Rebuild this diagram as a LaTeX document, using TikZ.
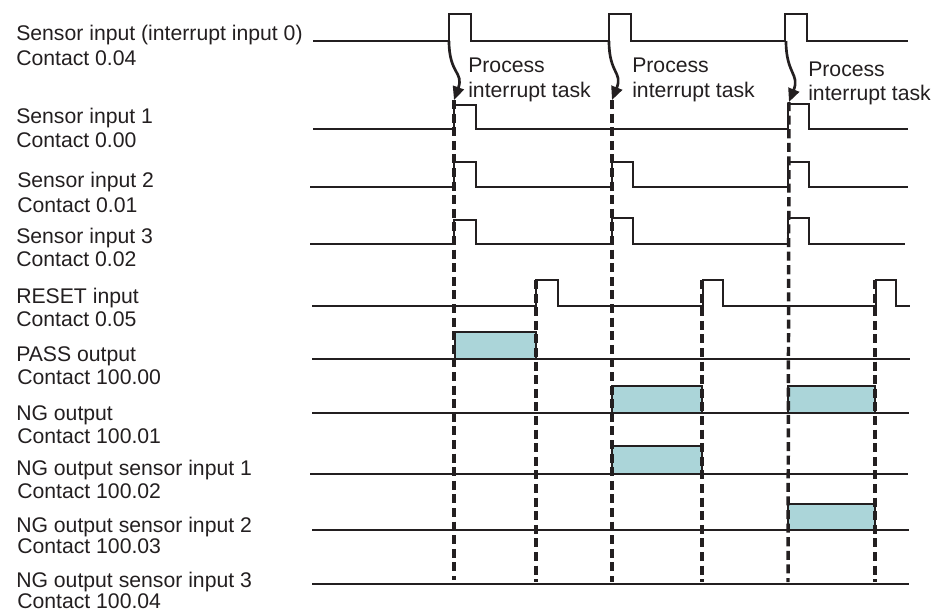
\documentclass[tikz,border=0pt]{standalone}
\usepackage{fontspec}
\setmainfont{Liberation Sans}
\usetikzlibrary{arrows.meta}
\definecolor{ink}{RGB}{35,31,32}
\definecolor{boxfill}{RGB}{171,213,217}
\begin{document}
\begin{tikzpicture}[x=0.75pt,y=-0.75pt,
  sig/.style={draw=ink,line width=1.2pt,line join=miter},
  lbl/.style={anchor=base west,inner sep=0pt,font=\fontsize{15.9}{19}\selectfont,text=ink},
  guide/.style={draw=ink,line width=2.6pt,dash pattern=on 6.8pt off 3.4pt},
  irq/.style={draw=ink,line width=2pt,-{Triangle[width=8.5pt,length=10pt]}},
  outbox/.style={draw=ink,line width=1.2pt,fill=boxfill}]
\useasboundingbox (0,0) rectangle (933,612);

% left labels
\node[lbl] (l0a) at (16,40) {Sensor input (interrupt input 0)};
\node[lbl] (l0b) at (16,65) {Contact 0.04};
\node[lbl] (l1a) at (16,123) {Sensor input 1};
\node[lbl] (l1b) at (16,147) {Contact 0.00};
\node[lbl] (l2a) at (17,187) {Sensor input 2};
\node[lbl] (l2b) at (17,212) {Contact 0.01};
\node[lbl] (l3a) at (16,243) {Sensor input 3};
\node[lbl] (l3b) at (16,266) {Contact 0.02};
\node[lbl] (l4a) at (16,303) {RESET input};
\node[lbl] (l4b) at (16,326) {Contact 0.05};
\node[lbl] (l5a) at (16,361) {PASS output};
\node[lbl] (l5b) at (17,384) {Contact 100.00};
\node[lbl] (l6a) at (16,420) {NG output};
\node[lbl] (l6b) at (17,443) {Contact 100.01};
\node[lbl] (l7a) at (16,475) {NG output sensor input 1};
\node[lbl] (l7b) at (17,498) {Contact 100.02};
\node[lbl] (l8a) at (16,532) {NG output sensor input 2};
\node[lbl] (l8b) at (17,553) {Contact 100.03};
\node[lbl] (l9a) at (16,587) {NG output sensor input 3};
\node[lbl] (l9b) at (17,608) {Contact 100.04};

% output boxes
\draw[outbox] (455,359) rectangle (536,332);
\draw[outbox] (612,413) rectangle (702,386);
\draw[outbox] (788,413) rectangle (875,386);
\draw[outbox] (612,474) rectangle (702,446);
\draw[outbox] (788,530) rectangle (875,504);

% signal lines
\draw[sig] (313,41) -- (449,41) |- (471,14) |- (609,41) |- (631,14) |- (785,41) |- (807,14) |- (908,41);
\draw[sig] (313,129) -- (454,129) |- (476,105) |- (788,129) |- (809,104) |- (908,129);
\draw[sig] (310,187) -- (454,187) |- (476,162) |- (612,187) |- (633,162) |- (788,187) |- (809,162) |- (908,187);
\draw[sig] (310,244) -- (454,244) |- (476,220) |- (612,244) |- (633,218) |- (788,244) |- (809,218) |- (905,244);
\draw[sig] (312,306) -- (536,306) |- (558,280) |- (703,306) |- (723,280) |- (876,306) |- (896,280) |- (910,306);
\draw[sig] (312,359) -- (910,359);
\draw[sig] (312,413) -- (909,413);
\draw[sig] (310,474) -- (908,474);
\draw[sig] (312,530) -- (909,530);
\draw[sig] (312,584) -- (909,584);

% interrupt arrows
\coordinate (s1) at (449,41);  \coordinate (t1) at (454,100);
\coordinate (s2) at (609,41);  \coordinate (t2) at (612,100);
\coordinate (s3) at (786,41);  \coordinate (t3) at (789,102);
\draw[irq] (s1) .. controls (449,74) and (464,72) .. (t1);
\draw[irq] (s2) .. controls (609,74) and (623,72) .. (t2);
\draw[irq] (s3) .. controls (786,74) and (800,74) .. (t3);

% guide lines
\coordinate (b1) at (454,580); \coordinate (b2) at (536,582);
\coordinate (b3) at (612,582); \coordinate (b4) at (702,582);
\coordinate (b5) at (788,582); \coordinate (b6) at (875,582);
\draw[guide] (t1) -- (b1);
\draw[guide] (t2) -- (b3);
\draw[guide] (t3) -- (b5);
\draw[guide] (536,280) -- (b2);
\draw[guide] (702,280) -- (b4);
\draw[guide] (875,280) -- (b6);

% process labels
\node[lbl] (p1a) at (468,72) {Process};
\node[lbl] (p1b) at (468,97) {interrupt task};
\node[lbl] (p2a) at (632,72) {Process};
\node[lbl] (p2b) at (632,97) {interrupt task};
\node[lbl] (p3a) at (808,76) {Process};
\node[lbl] (p3b) at (808,100) {interrupt task};
\end{tikzpicture}
\end{document}
